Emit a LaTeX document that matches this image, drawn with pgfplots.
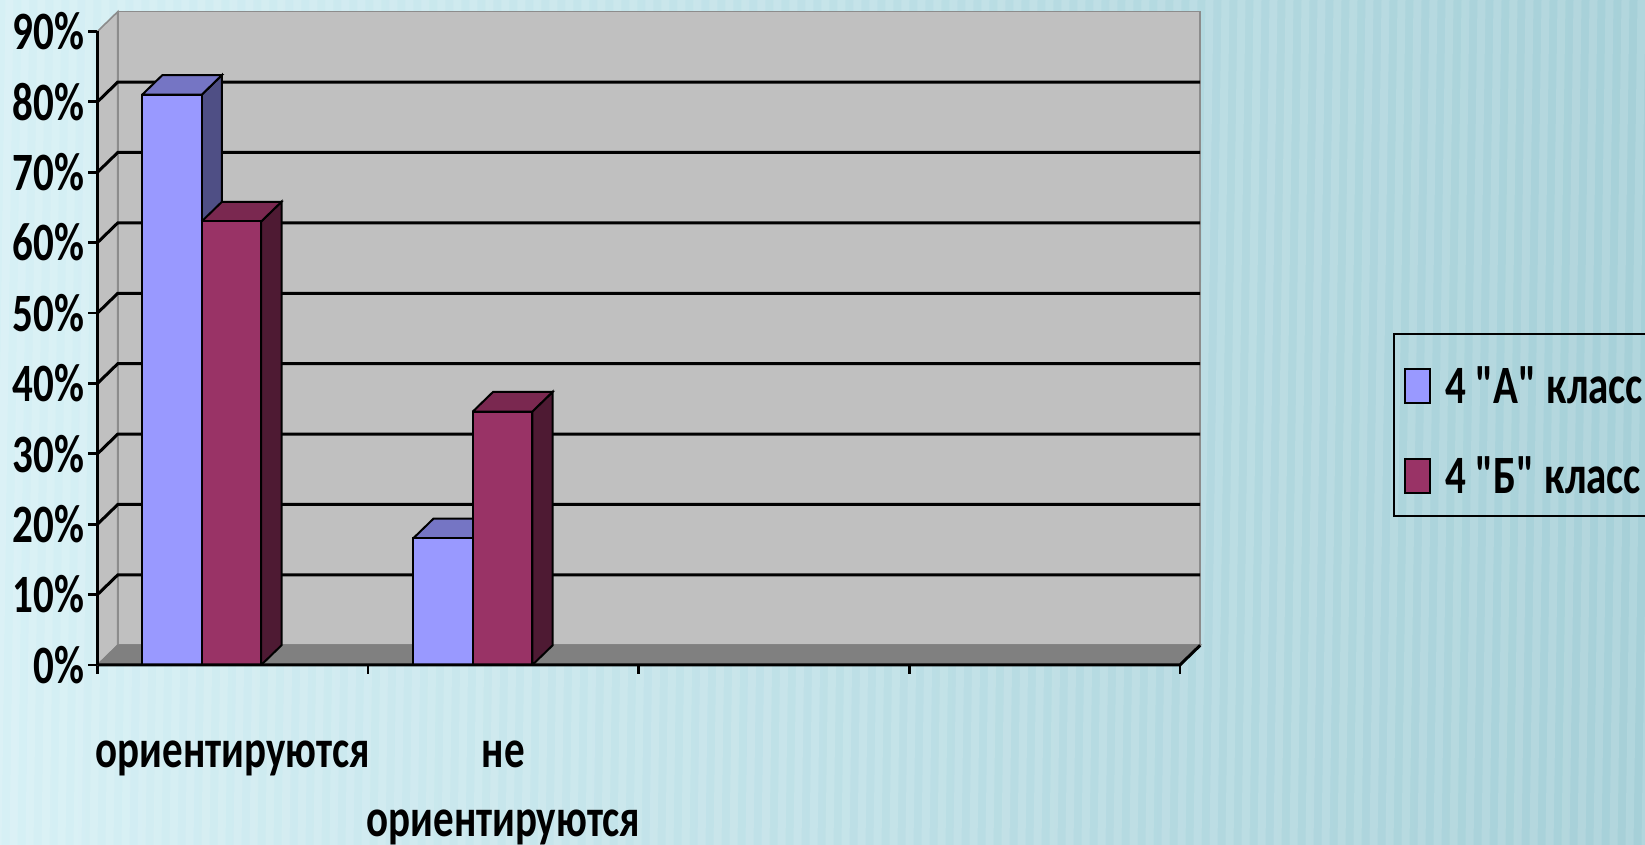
\documentclass[border=0pt]{standalone}
\usepackage{fontspec}
\setmainfont{Carlito}[FakeStretch=0.76]
\usepackage{pgfplots}
\pgfplotsset{compat=1.18}
\definecolor{bgA}{HTML}{D6F0F5}
\definecolor{bgB}{HTML}{A6D0D8}
\definecolor{wall}{HTML}{C0C0C0}
\definecolor{floorc}{HTML}{808080}
\definecolor{edgec}{HTML}{8C8C8C}
\definecolor{blueF}{HTML}{9999FF}
\definecolor{blueT}{HTML}{7575C4}
\definecolor{blueS}{HTML}{4F4F85}
\definecolor{redF}{HTML}{993366}
\definecolor{redT}{HTML}{7A2850}
\definecolor{redS}{HTML}{4E1A33}
\newcommand\lbl{\bfseries\fontsize{27pt}{34.5pt}\selectfont}
\newcommand\qd{\textquotedbl}
\newcommand\swatch[1]{\tikz[baseline=0pt]\draw[fill=#1, draw=black, line width=1pt] (0pt,0pt) rectangle (12.5pt,17pt);\hspace{7pt}}
\begin{document}
\begin{tikzpicture}
\useasboundingbox (-48.75pt,-90pt) rectangle (773.75pt,332.5pt);
\clip (-48.75pt,-90pt) rectangle (773.75pt,332.5pt);
\shade[left color=bgA, right color=bgB] (-48.75pt,-90pt) rectangle (773.75pt,332.5pt);
\foreach \i in {0,...,104}{
  \fill[white, opacity=0.13] ({-60pt+\i*8pt},-90pt) -- ({-56pt+\i*8pt},-90pt) -- ({-50pt+\i*8pt},332.5pt) -- ({-54pt+\i*8pt},332.5pt) -- cycle;
}
\begin{axis}[
  at={(0,0)}, anchor=south west,
  x=135.3pt, y=3.52pt,
  xmin=0, xmax=4.075, ymin=0, ymax=92.8,
  axis x line*=bottom, axis y line*=left,
  axis line style={draw=none},
  clip=false,
  xtick={0,1,2,3,4}, xticklabels={\mbox{},\mbox{},\mbox{},\mbox{},\mbox{}},
  ytick={0,10,...,90},
  yticklabels={0\%,10\%,20\%,30\%,40\%,50\%,60\%,70\%,80\%,90\%},
  tick align=outside, major tick length=4.5pt,
  tick style={black, line width=1.4pt},
  yticklabel style={font=\lbl, anchor=east, inner sep=0pt, xshift=-2pt},
  extra x ticks={0.5,1.5},
  extra x tick labels={ориентируются,{не\\ориентируются}},
  extra x tick style={major tick length=0pt, xticklabel style={font=\lbl, align=center, anchor=north, inner sep=0pt, yshift=-37.5pt}},
  legend image code/.code={},
  legend style={at={(1.1749,0.5082)}, anchor=north west, draw=black, line width=1.2pt, fill=none,
    font=\lbl, inner xsep=5pt, inner ysep=2pt, row sep=3pt,
    nodes={inner sep=0pt, text height=32.5pt, text depth=9.5pt},
    /tikz/every odd column/.append style={column sep=0pt}},
  legend cell align=left,
]
% walls
\addplot[forget plot, fill=wall, draw=edgec, line width=0.8pt] coordinates {(0.075,2.8)(4.075,2.8)(4.075,92.8)(0.075,92.8)(0.075,2.8)};
\addplot[forget plot, fill=wall, draw=edgec, line width=0.8pt] coordinates {(0,0)(0.075,2.8)(0.075,92.8)(0,90)(0,0)};
\addplot[forget plot, fill=floorc, draw=floorc, line width=0.8pt] coordinates {(0,0)(4,0)(4.075,2.8)(0.075,2.8)(0,0)};
% gridlines
\addplot[forget plot, black, line width=1.5pt] coordinates {(0,10)(0.075,12.8)(4.075,12.8)};
\addplot[forget plot, black, line width=1.5pt] coordinates {(0,20)(0.075,22.8)(4.075,22.8)};
\addplot[forget plot, black, line width=1.5pt] coordinates {(0,30)(0.075,32.8)(4.075,32.8)};
\addplot[forget plot, black, line width=1.5pt] coordinates {(0,40)(0.075,42.8)(4.075,42.8)};
\addplot[forget plot, black, line width=1.5pt] coordinates {(0,50)(0.075,52.8)(4.075,52.8)};
\addplot[forget plot, black, line width=1.5pt] coordinates {(0,60)(0.075,62.8)(4.075,62.8)};
\addplot[forget plot, black, line width=1.5pt] coordinates {(0,70)(0.075,72.8)(4.075,72.8)};
\addplot[forget plot, black, line width=1.5pt] coordinates {(0,80)(0.075,82.8)(4.075,82.8)};
% 4 "A" class: side and top faces, then front faces
\addplot[forget plot, fill=blueS, draw=black, line width=1pt] coordinates {(0.385,0)(0.385,81)(0.46,83.8)(0.46,2.8)(0.385,0)};
\addplot[forget plot, fill=blueT, draw=black, line width=1pt] coordinates {(0.165,81)(0.385,81)(0.46,83.8)(0.24,83.8)(0.165,81)};
\addplot[forget plot, fill=blueS, draw=black, line width=1pt] coordinates {(1.387,0)(1.387,18)(1.462,20.8)(1.462,2.8)(1.387,0)};
\addplot[forget plot, fill=blueT, draw=black, line width=1pt] coordinates {(1.167,18)(1.387,18)(1.462,20.8)(1.242,20.8)(1.167,18)};
\addplot[ybar, bar width=0.22, fill=blueF, draw=black, line width=1pt, legend image code/.code={}]
  coordinates {(0.275,81)(1.277,18)};
\addlegendentry{\swatch{blueF}4 \qd\kern-2.5pt А\qd\kern-2.5pt{} класс}
% 4 "B" class
\addplot[forget plot, fill=redS, draw=black, line width=1pt] coordinates {(0.605,0)(0.605,63)(0.68,65.8)(0.68,2.8)(0.605,0)};
\addplot[forget plot, fill=redT, draw=black, line width=1pt] coordinates {(0.385,63)(0.605,63)(0.68,65.8)(0.46,65.8)(0.385,63)};
\addplot[forget plot, fill=redS, draw=black, line width=1pt] coordinates {(1.607,0)(1.607,36)(1.682,38.8)(1.682,2.8)(1.607,0)};
\addplot[forget plot, fill=redT, draw=black, line width=1pt] coordinates {(1.387,36)(1.607,36)(1.682,38.8)(1.462,38.8)(1.387,36)};
\addplot[ybar, bar width=0.22, fill=redF, draw=black, line width=1pt, legend image code/.code={}]
  coordinates {(0.495,63)(1.497,36)};
\addlegendentry{\swatch{redF}4 \qd\kern-2.5pt Б\qd\kern-2.5pt{} класс}
% front axis lines
\addplot[forget plot, black, line width=1.5pt] coordinates {(0,0)(0,90)};
\addplot[forget plot, black, line width=1.5pt] coordinates {(0,0)(4,0)(4.075,2.8)};
\end{axis}
\end{tikzpicture}
\end{document}
